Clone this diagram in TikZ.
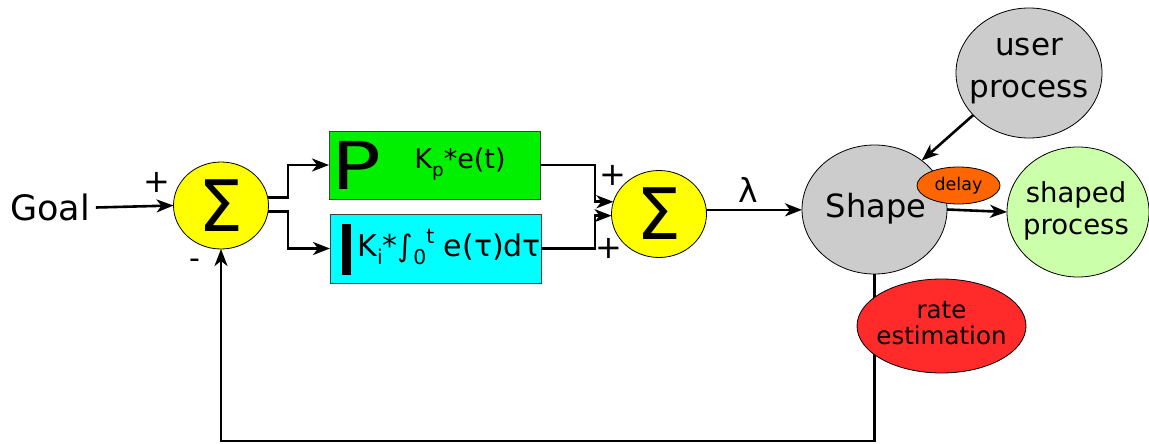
\documentclass[tikz,border=0pt]{standalone}
\usepackage{fontspec}
\setmainfont{DejaVu Sans}
\newfontfamily\barfont[FakeBold=3]{DejaVu Sans}
\usetikzlibrary{shapes.geometric,arrows.meta,calc}
\definecolor{sumyellow}{HTML}{FFFF00}
\definecolor{pgreen}{HTML}{00F000}
\definecolor{icyan}{HTML}{00FFFF}
\definecolor{sgray}{HTML}{CCCCCC}
\definecolor{lgreen}{HTML}{CCFFAA}
\definecolor{dorange}{HTML}{FF6600}
\definecolor{rred}{HTML}{FF2A2A}
\newcommand\myfs[1]{\fontsize{#1}{#1}\selectfont}
\newcommand\mysub[1]{\raisebox{-0.28em}{\scalebox{0.68}{#1}}}
\newcommand\mysup[1]{\raisebox{0.42em}{\scalebox{0.68}{#1}}}
\begin{document}
\begin{tikzpicture}[x=1pt,y=-1pt,
  every node/.style={inner sep=0pt,outer sep=0pt},
  sumnode/.style={ellipse,draw=black,line width=0.8pt,fill=sumyellow,minimum width=95pt,minimum height=87pt,font=\myfs{71}},
  ovalnode/.style={ellipse,draw=black,line width=0.8pt},
  ctrlbox/.style={draw=black!75,line width=0.8pt,minimum width=211pt,minimum height=68pt},
  conn/.style={line width=2.6pt,-{Stealth[length=17pt,width=13pt,inset=5pt]}}
]
\useasboundingbox (0,0) rectangle (1149,444);
\fill[white] (0,0) rectangle (1149,444);

% left summing junction
\node[font=\myfs{35}] (goal) at (50,207.5) {Goal};
\node[sumnode] (s1) at (221,205.5) {Σ};
\node[font=\myfs{32}] (plus1) at (157,182) {+};
\node[font=\myfs{30}] (minus1) at (195,263.5) {-};

% P and I blocks
\node[ctrlbox,fill=pgreen] (P) at (434.5,165) {};
\node[font=\myfs{66}] (Pletter) at (356.5,165) {\scalebox{1.25}[1]{P}};
\node[font=\myfs{27}] (Ptext) at (460,164) {K\mysub{p}*e(t)};
\node[ctrlbox,fill=icyan,minimum height=69pt] (I) at (435.5,248.5) {};
\node[font={\barfont\myfs{67}}] (Iletter) at (346.5,249.5) {I};
\node[font=\myfs{30},anchor=west] (Itext) at (357.5,247) {K\mysub{i}*∫\mysub{0}\mysup{t} e(τ)dτ};

% right summing junction
\node[sumnode] (s2) at (659,214) {Σ};
\node[font=\myfs{32}] (plus2) at (613,175) {+};
\node[font=\myfs{32}] (plus3) at (609,248) {+};
\node[font=\myfs{33}] (lambda) at (748,190) {λ};

% shaper
\node[ovalnode,fill=sgray,minimum width=145pt,minimum height=129pt] (shape) at (874.5,209.5) {};
\node[font=\myfs{32}] (shapetxt) at (876,209) {Shape};
\node[ovalnode,fill=dorange,minimum width=83pt,minimum height=37pt,font=\myfs{17.5}] (delay) at (958.5,185.5) {delay};
\node[ovalnode,fill=sgray,minimum width=146pt,minimum height=130pt] (user) at (1029,73) {};
\node[font={\fontsize{31}{42}\selectfont},align=center] (usertxt) at (1029,71) {user\\process};
\node[ovalnode,fill=lgreen,minimum width=142pt,minimum height=130pt] (shaped) at (1078,212) {};
\node[font={\fontsize{27.5}{32}\selectfont},align=center] (shapedtxt) at (1076,210.5) {shaped\\process};

% coordinates for wire bends
\coordinate (j1) at (288,0);
\coordinate (j2) at (595,0);
\coordinate (fb) at (0,441);

% connectors
\draw[conn] (goal.east) ++(6,0) -- (s1.west);
\draw[conn] (s1.10) -- (s1.10 -| j1) |- (P.west);
\draw[conn] (s1.-7) -- (s1.-7 -| j1) |- (I.west);
\draw[conn] (P.east) -- (P.east -| j2) -- (j2 |- s2.165) -- (s2.165);
\draw[conn] (I.east) -- (I.east -| j2) -- (j2 |- s2.182) -- (s2.182);
\draw[conn] (s2.5) -- (s2.5 -| shape.west);
\draw[conn] (shape.east) -- (shaped.west);
\draw[conn] (user.-143) -- (shape.46);
\draw[conn] (shape.south) -- (shape.south |- fb) -| (s1.south);

% rate estimation drawn over the feedback wire
\node[ovalnode,fill=rred,minimum width=169pt,minimum height=94pt] (rate) at (941.5,326) {};
\node[font={\fontsize{24.5}{26}\selectfont},align=center] (ratetxt) at (941.5,323) {rate\\estimation};
\end{tikzpicture}
\end{document}
